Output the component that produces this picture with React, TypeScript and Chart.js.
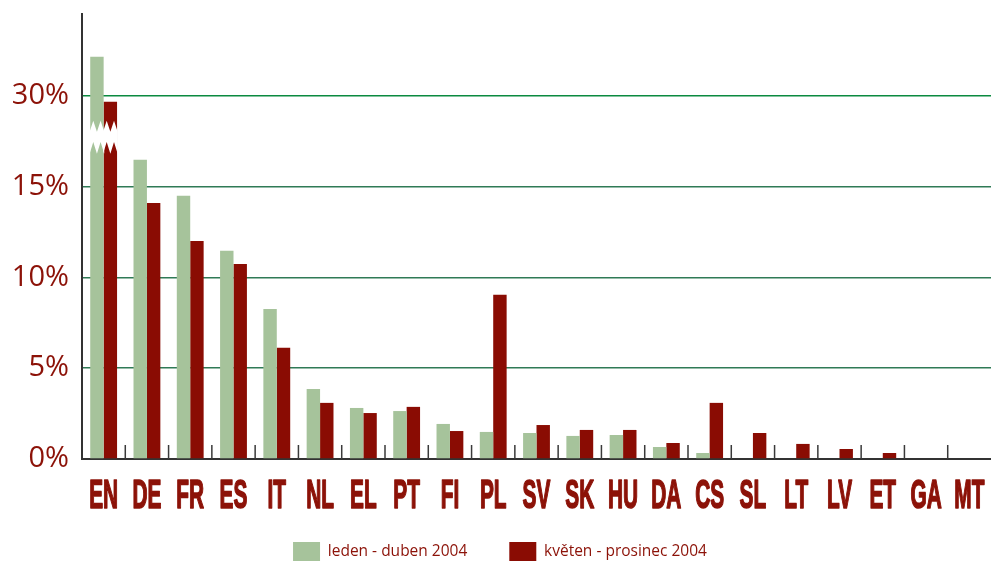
import { useEffect, useRef } from 'react';
import { Chart, registerables } from 'chart.js';

Chart.register(...registerables);

// ---- data (display units; EN bars are cut by an axis break) ----
const categories = ['EN', 'DE', 'FR', 'ES', 'IT', 'NL', 'EL', 'PT', 'FI', 'PL', 'SV', 'SK', 'HU', 'DA', 'CS', 'SL', 'LT', 'LV', 'ET', 'GA', 'MT'];
const janToApr = [22.15, 16.47, 14.49, 11.46, 8.26, 3.86, 2.81, 2.64, 1.93, 1.49, 1.43, 1.27, 1.32, 0.66, 0.33, 0, 0, 0, 0, 0, 0];
const mayToDec = [19.67, 14.1, 12.0, 10.74, 6.12, 3.09, 2.53, 2.87, 1.54, 9.04, 1.87, 1.6, 1.6, 0.88, 3.09, 1.43, 0.83, 0.55, 0.33, 0, 0];
const seriesNames = ['leden - duben 2004', 'květen - prosinec 2004'];
const yTickValues = [0, 5, 10, 15, 20];
const yTickLabels = ['0%', '5%', '10%', '15%', '30%'];

// ---- styles ----
const GREEN = '#a6c39b';
const RED = '#8a0c03';
const TEXT_RED = '#8c1208';
const AXIS = '#333333';
const Y_MAX = 24.5;
const BREAK_TOP = 18.62;
const BREAK_BOTTOM = 16.8;

const breakPlugin = {
  id: 'axisBreak',
  afterDatasetsDraw(chart: any) {
    const y = chart.scales.y;
    const yHi = y.getPixelForValue(BREAK_TOP);
    const yLo = y.getPixelForValue(BREAK_BOTTOM);
    const d = yLo - yHi;
    const ctx = chart.ctx;
    ctx.save();
    ctx.fillStyle = '#ffffff';
    chart.data.datasets.forEach((_ds: any, di: number) => {
      const el = chart.getDatasetMeta(di).data[0];
      if (!el) return;
      const w = el.width;
      const x0 = el.x - w / 2 - 0.6;
      const x1 = el.x + w / 2 + 0.6;
      const ww = x1 - x0;
      const up = yHi + d * 0.33;
      const lo = yLo - d * 0.36;
      ctx.beginPath();
      ctx.moveTo(x0, up);
      ctx.lineTo(x0 + ww * 0.25, yHi);
      ctx.lineTo(x0 + ww * 0.5, up);
      ctx.lineTo(x0 + ww * 0.75, yHi);
      ctx.lineTo(x1, up);
      ctx.lineTo(x1, yLo);
      ctx.lineTo(x0 + ww * 0.75, lo);
      ctx.lineTo(x0 + ww * 0.5, yLo);
      ctx.lineTo(x0 + ww * 0.25, lo);
      ctx.lineTo(x0, yLo);
      ctx.closePath();
      ctx.fill();
    });
    ctx.restore();
  },
};

const tickMarkPlugin = {
  id: 'categoryTicks',
  afterDatasetsDraw(chart: any) {
    const xs = chart.scales.x;
    const ctx = chart.ctx;
    const bottom = chart.chartArea.bottom;
    ctx.save();
    ctx.strokeStyle = '#3a3a3a';
    ctx.lineWidth = 1.5;
    for (let i = 0; i < categories.length - 1; i++) {
      const x = (xs.getPixelForValue(i) + xs.getPixelForValue(i + 1)) / 2;
      ctx.beginPath();
      ctx.moveTo(x, bottom - 14);
      ctx.lineTo(x, bottom);
      ctx.stroke();
    }
    ctx.restore();
  },
};

const xLabelPlugin = {
  id: 'condensedXLabels',
  afterDraw(chart: any) {
    const xs = chart.scales.x;
    const ctx = chart.ctx;
    const baseY = chart.chartArea.bottom + 49;
    ctx.save();
    ctx.font = 'bold 40px "Liberation Sans Narrow", "Liberation Sans", sans-serif';
    const sx = 29 / ctx.measureText('EN').width;
    ctx.fillStyle = TEXT_RED;
    ctx.strokeStyle = TEXT_RED;
    ctx.lineWidth = 1.6;
    ctx.lineJoin = 'round';
    ctx.textAlign = 'center';
    ctx.textBaseline = 'alphabetic';
    categories.forEach((c, i) => {
      const x = xs.getPixelForValue(i);
      ctx.save();
      ctx.translate(x, baseY);
      ctx.scale(sx, 1);
      ctx.fillText(c, 0, 0);
      ctx.strokeText(c, 0, 0);
      ctx.restore();
    });
    ctx.restore();
  },
};

export default function App() {
  const ref = useRef<HTMLCanvasElement>(null);

  useEffect(() => {
    document.body.style.margin = '0';
    const canvas = ref.current;
    if (!canvas) return;
    Chart.defaults.font.family = '"Open Sans", sans-serif';
    const chart = new Chart(canvas, {
      type: 'bar',
      data: {
        labels: categories,
        datasets: [
          {
            label: seriesNames[0],
            data: janToApr,
            backgroundColor: GREEN,
            borderWidth: 0,
            barPercentage: 1,
            categoryPercentage: 0.62,
          },
          {
            label: seriesNames[1],
            data: mayToDec,
            backgroundColor: RED,
            borderWidth: 0,
            barPercentage: 1,
            categoryPercentage: 0.62,
          },
        ],
      },
      options: {
        animation: false,
        responsive: false,
        layout: { padding: { top: 14, right: -9, bottom: -10, left: 0 } },
        plugins: {
          tooltip: { enabled: false },
          title: { display: false },
          legend: {
            display: true,
            position: 'bottom',
            align: 'center',
            labels: {
              boxWidth: 27,
              boxHeight: 19,
              padding: 42,
              color: TEXT_RED,
              font: { family: '"Open Sans", sans-serif', size: 15.5 },
            },
          },
        },
        scales: {
          x: {
            type: 'category',
            offset: true,
            grid: { display: false },
            ticks: { display: false },
            border: { display: true, color: AXIS, width: 2 },
            afterFit: (scale: any) => {
              scale.height = 41;
            },
          },
          y: {
            type: 'linear',
            min: 0,
            max: Y_MAX,
            afterBuildTicks: (scale: any) => {
              scale.ticks = yTickValues.map((v) => ({ value: v }));
            },
            afterFit: (scale: any) => {
              scale.width = 82;
            },
            grid: {
              drawTicks: false,
              lineWidth: 1.5,
              color: (ctx: any) =>
                ctx.tick && ctx.tick.value === 0
                  ? 'rgba(0,0,0,0)'
                  : ctx.tick && ctx.tick.value === 20
                  ? '#0b8a40'
                  : '#2f7a56',
            },
            border: { display: true, color: AXIS, width: 2 },
            ticks: {
              padding: 13,
              color: TEXT_RED,
              font: { family: '"Open Sans", sans-serif', size: 29, lineHeight: 0.03 },
              callback: (value: any) => {
                const idx = yTickValues.indexOf(Number(value));
                return idx >= 0 ? yTickLabels[idx] : '';
              },
            },
          },
        },
      },
      plugins: [breakPlugin, tickMarkPlugin, xLabelPlugin],
    } as any);
    return () => chart.destroy();
  }, []);

  return (
    <div style={{ width: 991, height: 561 }}>
      <canvas ref={ref} width={991} height={561} style={{ display: 'block' }} />
    </div>
  );
}
